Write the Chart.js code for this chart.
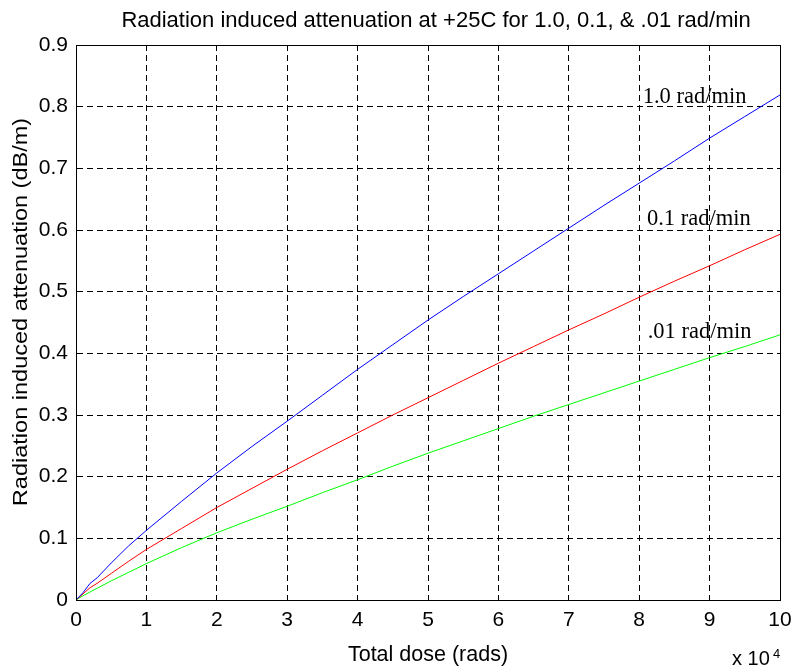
<!DOCTYPE html>
<html>
<head>
<meta charset="utf-8">
<script src="https://cdn.jsdelivr.net/npm/chart.js@4.4.1/dist/chart.umd.min.js"></script>
<style>
  html, body { margin: 0; padding: 0; background: #fff; }
  #wrap { width: 793px; height: 668px; position: relative; }
</style>
</head>
<body>
<div id="wrap"><canvas id="c" width="793" height="668"></canvas></div>
<script>
// Total dose in units of 10^4 rads
const doses = [0, 0.1, 0.2, 0.3, 0.5, 0.75, 1, 1.5, 2, 2.5, 3, 3.5, 4, 4.5, 5, 5.5, 6, 6.5, 7, 7.5, 8, 8.5, 9, 9.5, 10];
const rate10 = [0, 0.012, 0.027, 0.036, 0.060, 0.088, 0.113, 0.160, 0.206, 0.249, 0.290, 0.332, 0.374, 0.414, 0.454, 0.492, 0.529, 0.566, 0.603, 0.640, 0.676, 0.712, 0.749, 0.784, 0.819];
const rate01 = [0, 0.010, 0.020, 0.027, 0.043, 0.063, 0.082, 0.116, 0.150, 0.181, 0.212, 0.242, 0.271, 0.300, 0.328, 0.356, 0.384, 0.411, 0.438, 0.464, 0.491, 0.517, 0.542, 0.568, 0.593];
const rate001 = [0, 0.007, 0.013, 0.019, 0.031, 0.045, 0.059, 0.085, 0.109, 0.131, 0.152, 0.174, 0.195, 0.217, 0.238, 0.258, 0.278, 0.298, 0.317, 0.336, 0.355, 0.374, 0.393, 0.411, 0.430];
const seriesNames = ['1.0 rad/min', '0.1 rad/min', '.01 rad/min'];
const seriesColors = ['#0000ff', '#ff0000', '#00ff00'];
// label anchor positions in data units (dose, attenuation)
const labelDose = [8.05, 8.11, 8.12];
const labelAtt = [0.816, 0.618, 0.435];
const xTicks = [0, 1, 2, 3, 4, 5, 6, 7, 8, 9, 10];
const yTicks = [0, 0.1, 0.2, 0.3, 0.4, 0.5, 0.6, 0.7, 0.8, 0.9];
const titleText = 'Radiation induced attenuation at +25C for 1.0, 0.1, & .01 rad/min';
const xTitle = 'Total dose (rads)';
const yTitle = 'Radiation induced attenuation (dB/m)';

const toPts = arr => doses.map((d, i) => ({ x: d, y: arr[i] }));
const SANS = '"Liberation Sans", Arial, sans-serif';

const extras = {
  id: 'extras',
  afterDraw(chart) {
    const ctx = chart.ctx;
    const a = chart.chartArea;
    const xs = chart.scales.x, ys = chart.scales.y;
    ctx.save();
    // box
    ctx.strokeStyle = '#000';
    ctx.lineWidth = 1;
    ctx.strokeRect(Math.round(a.left) + 0.5, Math.round(a.top) + 0.5, Math.round(a.right - a.left), Math.round(a.bottom - a.top));
    // title
    ctx.fillStyle = '#000';
    ctx.font = '22px ' + SANS;
    ctx.textAlign = 'center';
    ctx.textBaseline = 'alphabetic';
    ctx.fillText(titleText, 436, 27);
    // y axis title
    ctx.save();
    ctx.translate(21, 312);
    ctx.rotate(-Math.PI / 2);
    ctx.scale(1.12, 1);
    ctx.font = '21px ' + SANS;
    ctx.textAlign = 'center';
    ctx.textBaseline = 'middle';
    ctx.fillText(yTitle, 0, 0);
    ctx.restore();
    // series labels
    ctx.font = '22.5px "Liberation Serif", "Times New Roman", serif';
    ctx.textAlign = 'left';
    ctx.textBaseline = 'middle';
    for (let i = 0; i < seriesNames.length; i++) {
      ctx.fillText(seriesNames[i], xs.getPixelForValue(labelDose[i]), ys.getPixelForValue(labelAtt[i]));
    }
    // x 10^4
    ctx.textBaseline = 'alphabetic';
    ctx.font = '20px ' + SANS;
    ctx.fillText('x 10', 732, 665);
    ctx.font = '13px ' + SANS;
    ctx.fillText('4', 773, 658);
    ctx.restore();
  }
};

new Chart(document.getElementById('c'), {
  type: 'line',
  data: {
    datasets: [
      { label: seriesNames[0], data: toPts(rate10), borderColor: seriesColors[0], borderWidth: 1, pointRadius: 0, tension: 0, fill: false },
      { label: seriesNames[1], data: toPts(rate01), borderColor: seriesColors[1], borderWidth: 1, pointRadius: 0, tension: 0, fill: false },
      { label: seriesNames[2], data: toPts(rate001), borderColor: seriesColors[2], borderWidth: 1, pointRadius: 0, tension: 0, fill: false }
    ]
  },
  options: {
    responsive: false,
    animation: false,
    events: [],
    layout: { padding: { left: 0, right: 13, top: 45, bottom: 0 } },
    plugins: { legend: { display: false }, tooltip: { enabled: false }, title: { display: false } },
    scales: {
      x: {
        type: 'linear', min: 0, max: 10,
        afterBuildTicks: s => { s.ticks = xTicks.map(v => ({ value: v })); },
        afterFit: s => { s.height = 68; s.paddingRight = 0; s.paddingLeft = 0; },
        grid: { color: '#000', lineWidth: 1, drawTicks: false },
        border: { display: true, color: '#000', dash: [6, 4] },
        ticks: { color: '#000', padding: 8, maxRotation: 0, font: { family: SANS, size: 21 }, callback: v => String(v) },
        title: { display: true, text: xTitle, color: '#000', padding: { top: 8, bottom: 0 }, font: { family: SANS, size: 21.5 } }
      },
      y: {
        type: 'linear', min: 0, max: 0.9,
        afterBuildTicks: s => { s.ticks = yTicks.map(v => ({ value: v })); },
        afterFit: s => { s.width = 76; s.paddingTop = 0; s.paddingBottom = 0; },
        grid: { color: '#000', lineWidth: 1, drawTicks: false },
        border: { display: true, color: '#000', dash: [6, 4] },
        ticks: { color: '#000', padding: 8, font: { family: SANS, size: 21 }, callback: v => v === 0 ? '0' : Number(v).toFixed(1) },
        title: { display: false }
      }
    }
  },
  plugins: [extras]
});
</script>
</body>
</html>
